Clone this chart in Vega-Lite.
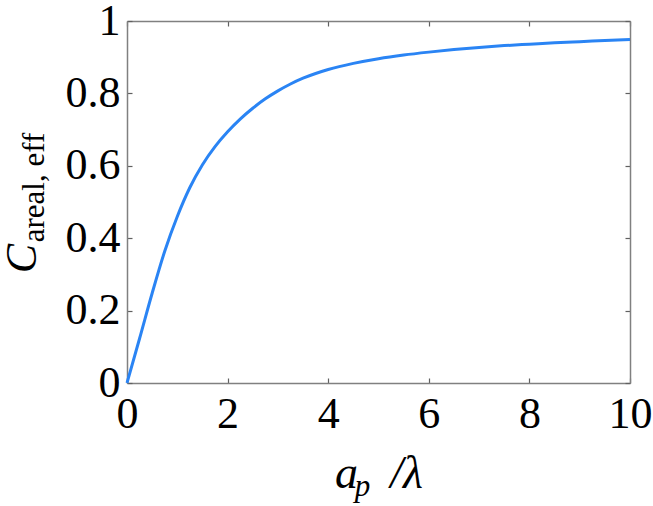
{
  "$schema": "https://vega.github.io/schema/vega-lite/v6.json",
  "width": 503,
  "height": 362,
  "autosize": "none",
  "padding": {"left": 127, "top": 21, "right": 23, "bottom": 123},
  "background": "white",
  "config": {
    "view": {"stroke": null},
    "font": "Liberation Serif",
    "axis": {
      "grid": false,
      "domainColor": "#808080",
      "domainWidth": 1.5,
      "tickColor": "#606060",
      "tickWidth": 1.2,
      "tickSize": -5,
      "labelFont": "Liberation Serif",
      "labelFontSize": 44,
      "labelColor": "black",
      "titleFont": "Liberation Serif",
      "titleColor": "black",
      "titleFontWeight": "normal"
    }
  },
  "data": {
    "values": [
      {"x": 0, "y": 0},
      {"x": 0.25, "y": 0.123},
      {"x": 0.5, "y": 0.248},
      {"x": 0.75, "y": 0.364},
      {"x": 1.0, "y": 0.46},
      {"x": 1.25, "y": 0.54},
      {"x": 1.5, "y": 0.603},
      {"x": 1.75, "y": 0.653},
      {"x": 2.0, "y": 0.694},
      {"x": 2.25, "y": 0.729},
      {"x": 2.5, "y": 0.759},
      {"x": 2.75, "y": 0.785},
      {"x": 3.0, "y": 0.807},
      {"x": 3.25, "y": 0.826},
      {"x": 3.5, "y": 0.842},
      {"x": 3.75, "y": 0.855},
      {"x": 4.0, "y": 0.866},
      {"x": 4.5, "y": 0.883},
      {"x": 5.0, "y": 0.896},
      {"x": 5.5, "y": 0.906},
      {"x": 6.0, "y": 0.914},
      {"x": 6.5, "y": 0.921},
      {"x": 7.0, "y": 0.927},
      {"x": 7.5, "y": 0.932},
      {"x": 8.0, "y": 0.936},
      {"x": 8.5, "y": 0.94},
      {"x": 9.0, "y": 0.943},
      {"x": 9.5, "y": 0.946},
      {"x": 10, "y": 0.949}
    ]
  },
  "layer": [
    {
      "mark": {"type": "line", "color": "#2a84f4", "strokeWidth": 3, "interpolate": "monotone"},
      "encoding": {
        "x": {
          "field": "x", "type": "quantitative",
          "scale": {"domain": [0, 10], "nice": false},
          "axis": {
            "orient": "bottom", "values": [0, 2, 4, 6, 8, 10], "labelPadding": 14,
            "labelFlush": false, "labelOverlap": false,
            "title": "a\u2002\u2009/λ", "titleFontSize": 46, "titleFontStyle": "italic",
            "titleY": 104, "titleBaseline": "alphabetic"
          }
        },
        "y": {
          "field": "y", "type": "quantitative",
          "scale": {"domain": [0, 1], "nice": false},
          "axis": {
            "orient": "left", "values": [0, 0.2, 0.4, 0.6, 0.8, 1], "labelPadding": 12,
            "labelFlush": false, "labelOverlap": false,
            "labelExpr": "datum.value == 0 ? '0' : datum.value == 1 ? '1' : format(datum.value, '.1f')",
            "title": "C", "titleFontSize": 44, "titleFontStyle": "italic",
            "titleAngle": 270, "titleX": -92, "titleY": 237, "titleAlign": "center", "titleBaseline": "alphabetic"
          }
        }
      }
    },
    {
      "mark": {"type": "line", "opacity": 0},
      "encoding": {
        "x": {
          "field": "x", "type": "quantitative",
          "axis": {
            "orient": "top", "values": [0, 2, 4, 6, 8, 10], "labels": false,
            "title": "p", "titleFontSize": 31, "titleFontStyle": "italic",
            "titleX": 235, "titleY": 474, "titleAlign": "center", "titleBaseline": "alphabetic", "titleAngle": 0
          }
        },
        "y": {
          "field": "y", "type": "quantitative",
          "axis": {
            "orient": "right", "values": [0, 0.2, 0.4, 0.6, 0.8, 1], "labels": false,
            "title": "areal, eff", "titleFontSize": 31, "titleFontStyle": "normal",
            "titleAngle": 270, "titleX": -587, "titleY": 166, "titleAlign": "center", "titleBaseline": "alphabetic"
          }
        }
      }
    }
  ],
  "resolve": {"axis": {"x": "independent", "y": "independent"}}
}
